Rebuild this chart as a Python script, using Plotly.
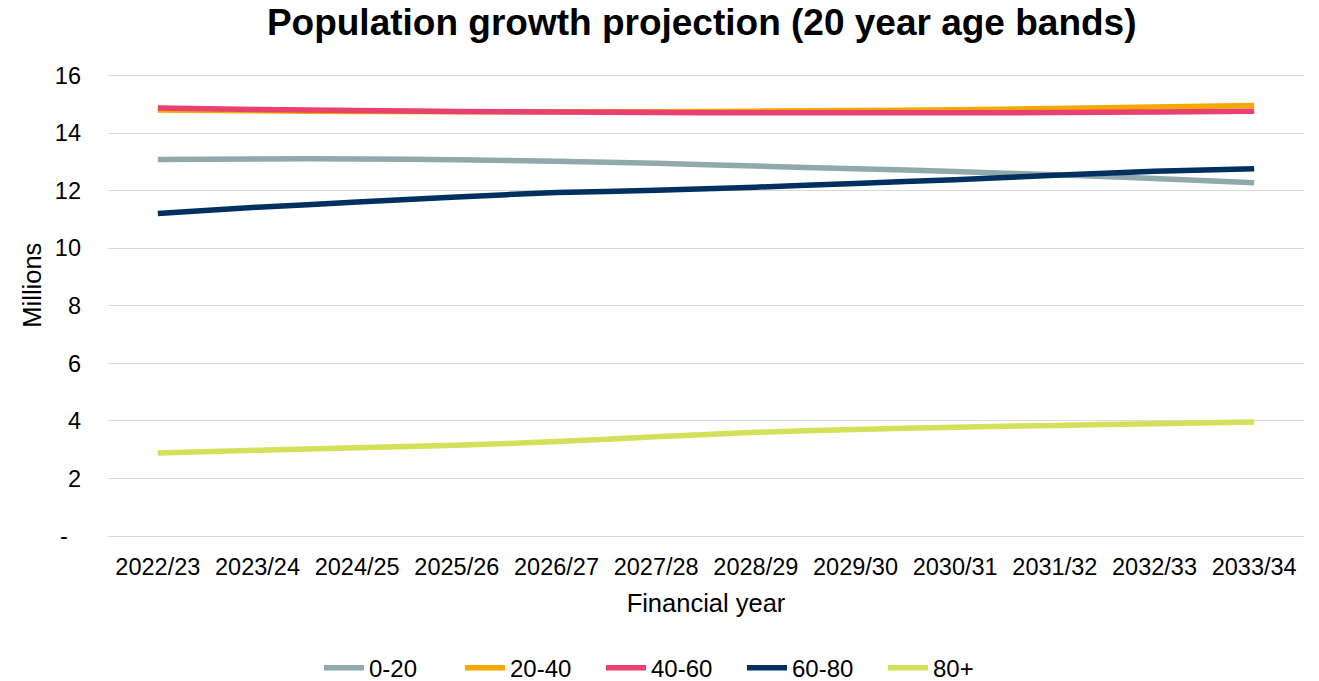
import plotly.graph_objects as go

years = ["2022/23", "2023/24", "2024/25", "2025/26", "2026/27", "2027/28",
         "2028/29", "2029/30", "2030/31", "2031/32", "2032/33", "2033/34"]
s_0_20 = [13.08, 13.1, 13.1, 13.07, 13.02, 12.95, 12.85, 12.76, 12.66, 12.55, 12.42, 12.27]
s_20_40 = [14.8, 14.77, 14.75, 14.74, 14.74, 14.74, 14.76, 14.78, 14.81, 14.85, 14.9, 14.96]
s_40_60 = [14.87, 14.82, 14.78, 14.75, 14.73, 14.71, 14.7, 14.7, 14.7, 14.71, 14.73, 14.76]
s_60_80 = [11.2, 11.42, 11.6, 11.78, 11.93, 12.01, 12.12, 12.25, 12.38, 12.53, 12.67, 12.76]
s_80 = [2.88, 2.98, 3.07, 3.15, 3.28, 3.45, 3.6, 3.7, 3.78, 3.84, 3.9, 3.96]

series = [
    ("0-20", s_0_20, "#8FA9AC"),
    ("20-40", s_20_40, "#F5A800"),
    ("40-60", s_40_60, "#E8416F"),
    ("60-80", s_60_80, "#00305F"),
    ("80+", s_80, "#D4DF5A"),
]

ytickvals = [0, 2, 4, 6, 8, 10, 12, 14, 16]
yticktext = ["-\u00a0\u00a0", "2", "4", "6", "8", "10", "12", "14", "16"]

fig = go.Figure()
for name, vals, col in series:
    fig.add_trace(go.Scatter(x=years, y=vals, name=name, mode="lines",
                             line=dict(color=col, width=5.5, shape="spline", smoothing=0.6)))

font = "Liberation Sans, Arial, sans-serif"
fig.update_layout(
    width=1319, height=681,
    margin=dict(l=108, r=15, t=74, b=145, autoexpand=False),
    paper_bgcolor="white", plot_bgcolor="white",
    font=dict(family=font, size=23.5, color="#000000"),
    title=dict(text="<b>Population growth projection (20 year age bands)</b>",
               x=0.532, xanchor="center", y=0.968, yanchor="middle",
               font=dict(size=37, family=font, color="#000000")),
    xaxis=dict(range=[-0.5, 11.5], showgrid=False, showline=True, automargin=False,
               linecolor="#D9D9D9", linewidth=1, ticks="", ticklabelstandoff=10,
               title=dict(text="Financial year", standoff=14, font=dict(size=25.5)),
               tickfont=dict(size=23.5)),
    yaxis=dict(range=[0, 16.05], tickvals=ytickvals, ticktext=yticktext, automargin=False,
               showgrid=True, gridcolor="#D9D9D9", gridwidth=1, zeroline=False,
               ticks="", ticklabelstandoff=26,
               tickfont=dict(size=23.5)),
    legend=dict(orientation="h", x=0.1764, xanchor="left", y=-0.286, yanchor="middle",
                font=dict(size=24), itemwidth=40, tracegroupgap=0,
                entrywidth=86, entrywidthmode="pixels"),
    annotations=[dict(text="Millions", textangle=-90, xref="paper", yref="paper",
                      x=-0.0635, y=0.542, xanchor="center", yanchor="middle",
                      showarrow=False, font=dict(size=25.5, family=font, color="#000000"))],
)

fig.write_html("out.html")
